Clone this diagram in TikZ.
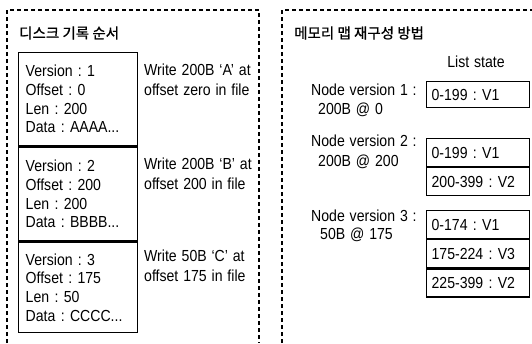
\documentclass[tikz,border=0pt]{standalone}
\usepackage{fontspec}
\setmainfont{Liberation Sans}[FakeStretch=0.88,WordSpace=1.25]
\newfontfamily\kr{Noto Sans CJK KR}[FakeBold=0.8]
\frenchspacing
\begin{document}
\begin{tikzpicture}[x=1pt,y=-1pt,
  txt/.style={font=\fontsize{16}{20.5}\selectfont, inner sep=0pt},
  rec/.style={draw, line width=1.4pt, minimum width=119pt, text width=105pt, inner xsep=7pt, inner ysep=0pt, align=left, anchor=north west, font=\fontsize{16}{18.7}\selectfont},
  frame/.style={line width=1.1pt, dash pattern=on 4pt off 3pt},
  cell/.style={draw, line width=1.2pt, text width=93pt, inner xsep=5pt, inner ysep=0pt, minimum height=28pt, align=left, anchor=north west, font=\fontsize{16}{16}\selectfont},
  titletxt/.style={font=\kr\fontsize{14.5}{16}\selectfont, anchor=west, inner sep=0pt},
]
\useasboundingbox (0,0) rectangle (532,343);

% dashed frames
\coordinate (fl1) at (7,343);
\coordinate (fl2) at (7,10);
\coordinate (fl3) at (259,10);
\coordinate (fl4) at (259,343);
\draw[frame] (fl1) -- (fl2) -- (fl3) -- (fl4);
\coordinate (fr1) at (282,343);
\coordinate (fr2) at (282,10);
\coordinate (fr3) at (533,10);
\draw[frame] (fr1) -- (fr2) -- (fr3);

% titles
\node[titletxt] (t1) at (19,33) {디스크 기록 순서};
\node[titletxt] (t2) at (294,33) {메모리 맵 재구성 방법};

% left records
\node[rec, minimum height=93pt] (r1) at (18,52) {Version : 1\\Offset : 0\\Len : 200\\Data : AAAA...};
\node[rec, minimum height=94pt] (r2) at (r1.south west) {Version : 2\\Offset : 200\\Len : 200\\Data : BBBB...};
\node[rec, minimum height=90pt] (r3) at (r2.south west) {Version : 3\\Offset : 175\\Len : 50\\Data : CCCC...};

% descriptions
\node[txt, anchor=west, align=left] (d1) at (144,80) {Write 200B ‘A’ at\\offset zero in file};
\node[txt, anchor=west, align=left] (d2) at (144,174) {Write 200B ‘B’ at\\offset 200 in file};
\node[txt, anchor=west, align=left] (d3) at (144,266) {Write 50B ‘C’ at\\offset 175 in file};

% right side
\node[txt] (ls) at (476,62) {List state};

\node[txt, anchor=west] (n1) at (311,90) {Node version 1 :};
\node[txt, anchor=west] (s1) at (318,110) {200B @ 0};
\node[txt, anchor=west] (n2) at (311,141) {Node version 2 :};
\node[txt, anchor=west] (s2) at (318,162) {200B @ 200};
\node[txt, anchor=west] (n3) at (311,216) {Node version 3 :};
\node[txt, anchor=west] (s3) at (320,235) {50B @ 175};

\node[cell, minimum height=26pt] (a1) at (426,81) {0-199 : V1};

\node[cell] (b1) at (426,138) {0-199 : V1};
\node[cell] (b2) at (b1.south west) {200-399 : V2};

\node[cell] (c1) at (426,210) {0-174 : V1};
\node[cell] (c2) at (c1.south west) {175-224 : V3};
\node[cell] (c3) at (c2.south west) {225-399 : V2};
\end{tikzpicture}
\end{document}
